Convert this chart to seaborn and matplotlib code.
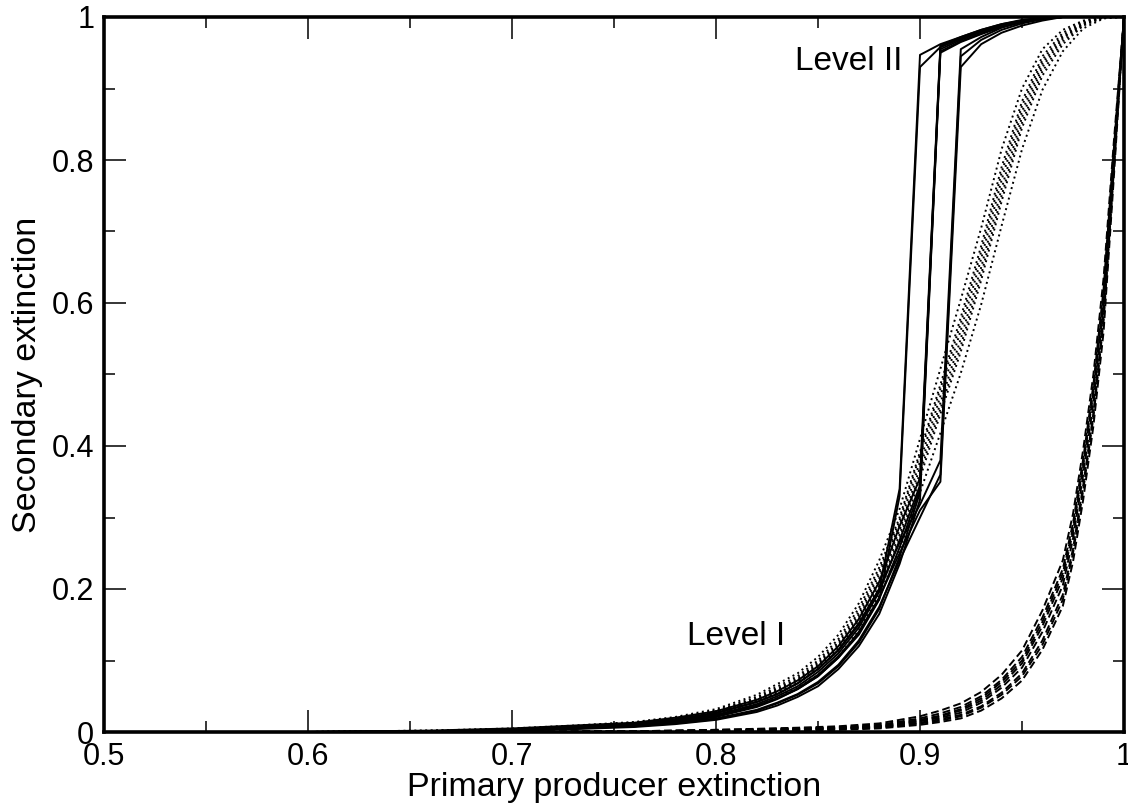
import matplotlib
matplotlib.use("Agg")
import matplotlib.pyplot as plt
import numpy as np
import pandas as pd
import seaborn as sns
from matplotlib.ticker import MultipleLocator, FuncFormatter

# x grids (primary producer extinction) for each family of runs
solid_x = [0.50, 0.60, 0.66, 0.70, 0.73, 0.76, 0.78, 0.80, 0.82, 0.83, 0.84, 0.85, 0.86,
           0.87, 0.88, 0.89, 0.90, 0.91, 0.92, 0.93, 0.94, 0.95, 0.96, 0.97, 1.00]
dotted_x = [0.50, 0.60, 0.66, 0.70, 0.73, 0.76, 0.78, 0.80, 0.82, 0.84, 0.85, 0.86, 0.87,
            0.88, 0.89, 0.90, 0.91, 0.92, 0.93, 0.94, 0.95, 0.96, 0.97, 0.98, 0.99, 1.00]
dashed_x = [0.50, 0.60, 0.70, 0.76, 0.80, 0.84, 0.86, 0.88, 0.90, 0.91, 0.92, 0.93, 0.94,
            0.95, 0.96, 0.97, 0.975, 0.98, 0.985, 0.99, 0.995, 1.00]

# solid runs (Level I -> Level II jump)
solid_runs = [
    [0, 0, 0.001, 0.004, 0.007, 0.012, 0.018, 0.027, 0.042, 0.053, 0.068, 0.088, 0.114, 0.150, 0.200, 0.340, 0.947, 0.962, 0.972, 0.982, 0.990, 0.995, 0.998, 1.0, 1.0],
    [0, 0, 0, 0.002, 0.005, 0.009, 0.014, 0.021, 0.035, 0.046, 0.060, 0.078, 0.104, 0.136, 0.185, 0.330, 0.930, 0.958, 0.970, 0.980, 0.988, 0.994, 0.998, 1.0, 1.0],
    [0, 0, 0.001, 0.003, 0.006, 0.010, 0.016, 0.024, 0.039, 0.050, 0.064, 0.084, 0.110, 0.146, 0.196, 0.268, 0.345, 0.955, 0.968, 0.979, 0.988, 0.994, 0.998, 1.0, 1.0],
    [0, 0, 0, 0.002, 0.005, 0.008, 0.012, 0.018, 0.030, 0.040, 0.052, 0.068, 0.092, 0.125, 0.172, 0.245, 0.335, 0.950, 0.965, 0.976, 0.986, 0.993, 0.997, 1.0, 1.0],
    [0, 0, 0.002, 0.005, 0.009, 0.013, 0.020, 0.029, 0.045, 0.057, 0.072, 0.092, 0.120, 0.158, 0.210, 0.288, 0.355, 0.960, 0.972, 0.982, 0.990, 0.996, 0.999, 1.0, 1.0],
    [0, 0, 0.001, 0.003, 0.006, 0.009, 0.014, 0.022, 0.036, 0.047, 0.061, 0.080, 0.106, 0.138, 0.186, 0.258, 0.340, 0.958, 0.970, 0.980, 0.989, 0.995, 0.998, 1.0, 1.0],
    [0, 0, 0, 0.002, 0.004, 0.007, 0.011, 0.017, 0.028, 0.037, 0.049, 0.064, 0.088, 0.120, 0.165, 0.235, 0.325, 0.952, 0.966, 0.977, 0.987, 0.993, 0.997, 1.0, 1.0],
    [0, 0, 0.001, 0.003, 0.006, 0.010, 0.015, 0.023, 0.037, 0.047, 0.060, 0.078, 0.104, 0.140, 0.188, 0.250, 0.310, 0.350, 0.930, 0.962, 0.978, 0.988, 0.995, 1.0, 1.0],
    [0, 0, 0, 0.002, 0.005, 0.008, 0.013, 0.019, 0.031, 0.041, 0.053, 0.070, 0.094, 0.128, 0.175, 0.240, 0.300, 0.360, 0.945, 0.968, 0.982, 0.991, 0.997, 1.0, 1.0],
    [0, 0, 0.001, 0.004, 0.007, 0.011, 0.017, 0.026, 0.042, 0.053, 0.068, 0.088, 0.115, 0.152, 0.200, 0.265, 0.318, 0.380, 0.955, 0.972, 0.985, 0.993, 0.998, 1.0, 1.0],
]

# dotted runs (smooth sigmoid)
dotted_runs = [
    [0, 0, 0.001, 0.003, 0.007, 0.012, 0.017, 0.027, 0.044, 0.072, 0.093, 0.120, 0.160, 0.214, 0.282, 0.370, 0.460, 0.550, 0.650, 0.760, 0.860, 0.930, 0.970, 0.990, 1.0, 1.0],
    [0, 0, 0.002, 0.005, 0.009, 0.014, 0.021, 0.032, 0.052, 0.082, 0.105, 0.136, 0.180, 0.240, 0.312, 0.410, 0.508, 0.605, 0.705, 0.815, 0.900, 0.955, 0.982, 0.995, 1.0, 1.0],
    [0, 0, 0.001, 0.002, 0.006, 0.010, 0.015, 0.023, 0.038, 0.062, 0.080, 0.105, 0.142, 0.192, 0.255, 0.335, 0.418, 0.502, 0.598, 0.708, 0.815, 0.898, 0.952, 0.984, 0.998, 1.0],
    [0, 0, 0.001, 0.004, 0.008, 0.013, 0.019, 0.029, 0.047, 0.075, 0.097, 0.126, 0.168, 0.225, 0.296, 0.388, 0.480, 0.572, 0.672, 0.782, 0.876, 0.940, 0.975, 0.992, 1.0, 1.0],
    [0, 0, 0, 0.003, 0.006, 0.011, 0.016, 0.025, 0.042, 0.068, 0.088, 0.114, 0.152, 0.204, 0.270, 0.355, 0.445, 0.532, 0.632, 0.742, 0.845, 0.918, 0.962, 0.988, 0.999, 1.0],
    [0, 0, 0.002, 0.004, 0.008, 0.013, 0.018, 0.028, 0.046, 0.073, 0.095, 0.123, 0.164, 0.220, 0.290, 0.378, 0.470, 0.562, 0.662, 0.772, 0.868, 0.935, 0.972, 0.991, 1.0, 1.0],
    [0, 0, 0.001, 0.003, 0.007, 0.012, 0.017, 0.026, 0.043, 0.069, 0.090, 0.117, 0.156, 0.209, 0.276, 0.362, 0.452, 0.540, 0.640, 0.750, 0.852, 0.924, 0.966, 0.989, 1.0, 1.0],
    [0, 0, 0.001, 0.003, 0.007, 0.012, 0.018, 0.030, 0.049, 0.078, 0.100, 0.130, 0.173, 0.230, 0.300, 0.392, 0.486, 0.580, 0.680, 0.790, 0.882, 0.945, 0.978, 0.994, 1.0, 1.0],
]

# dashed runs (steep rise near 1)
dashed_runs = [
    [0, 0, 0, 0.001, 0.002, 0.004, 0.005, 0.007, 0.015, 0.020, 0.027, 0.041, 0.062, 0.090, 0.140, 0.205, 0.270, 0.360, 0.460, 0.595, 0.800, 1.0],
    [0, 0, 0, 0.001, 0.003, 0.006, 0.008, 0.012, 0.022, 0.030, 0.040, 0.056, 0.080, 0.114, 0.170, 0.240, 0.305, 0.395, 0.500, 0.635, 0.825, 1.0],
    [0, 0, 0, 0, 0.001, 0.002, 0.003, 0.005, 0.010, 0.014, 0.019, 0.030, 0.047, 0.072, 0.115, 0.176, 0.238, 0.325, 0.428, 0.560, 0.775, 1.0],
    [0, 0, 0, 0.001, 0.002, 0.004, 0.006, 0.008, 0.016, 0.022, 0.030, 0.044, 0.066, 0.096, 0.148, 0.215, 0.280, 0.372, 0.475, 0.610, 0.810, 1.0],
    [0, 0, 0, 0, 0.002, 0.003, 0.005, 0.007, 0.013, 0.018, 0.024, 0.036, 0.055, 0.082, 0.128, 0.192, 0.256, 0.345, 0.446, 0.582, 0.788, 1.0],
    [0, 0, 0, 0.001, 0.002, 0.005, 0.007, 0.010, 0.019, 0.026, 0.035, 0.050, 0.073, 0.105, 0.160, 0.228, 0.292, 0.382, 0.486, 0.620, 0.815, 1.0],
    [0, 0, 0, 0, 0.001, 0.003, 0.004, 0.006, 0.012, 0.016, 0.022, 0.034, 0.052, 0.078, 0.122, 0.185, 0.250, 0.338, 0.440, 0.575, 0.785, 1.0],
    [0, 0, 0, 0.001, 0.003, 0.005, 0.006, 0.009, 0.017, 0.023, 0.032, 0.047, 0.070, 0.100, 0.154, 0.222, 0.286, 0.376, 0.478, 0.605, 0.805, 1.0],
]

# build one long table
rows = []
for fam, xs, runs in [("solid", solid_x, solid_runs),
                      ("dotted", dotted_x, dotted_runs),
                      ("dashed", dashed_x, dashed_runs)]:
    for i, ys in enumerate(runs):
        for x, y in zip(xs, ys):
            rows.append((fam, f"{fam}{i}", x, y))
df = pd.DataFrame(rows, columns=["family", "run", "x", "y"])

sns.set_theme(style="ticks")
plt.rcParams["font.family"] = ["Liberation Sans", "DejaVu Sans"]
plt.rcParams["text.color"] = "black"
plt.rcParams["axes.labelcolor"] = "black"

fig = plt.figure(figsize=(11.28, 8.06), dpi=100)
ax = fig.add_axes([104 / 1128, 74 / 806, 1020 / 1128, 715 / 806])

sns.lineplot(data=df, x="x", y="y", units="run", estimator=None, style="family",
             dashes={"solid": "", "dotted": (1, 1.8), "dashed": (4, 2)},
             color="black", linewidth=1.4, legend=False, sort=False, ax=ax)

ax.set_xlim(0.5, 1.0)
ax.set_ylim(0, 1.0)
ax.xaxis.set_major_locator(MultipleLocator(0.1))
ax.xaxis.set_minor_locator(MultipleLocator(0.05))
ax.yaxis.set_major_locator(MultipleLocator(0.2))
ax.yaxis.set_minor_locator(MultipleLocator(0.1))
fmt = FuncFormatter(lambda v, p: f"{v:g}")
ax.xaxis.set_major_formatter(fmt)
ax.yaxis.set_major_formatter(fmt)

ax.tick_params(which="both", direction="in", top=True, right=True, width=1.1,
               colors="black", labelcolor="black")
ax.tick_params(which="major", length=16, labelsize=22, pad=7)
ax.tick_params(which="minor", length=8)
for sp in ax.spines.values():
    sp.set_linewidth(2.6)
    sp.set_color("black")

ax.set_xlabel("Primary producer extinction", fontsize=24.5, labelpad=0)
ax.set_ylabel("Secondary extinction", fontsize=24.5, labelpad=6)

ax.text(0.7858, 0.122, "Level I", fontsize=24, ha="left", va="baseline")
ax.text(0.8387, 0.926, "Level II", fontsize=24, ha="left", va="baseline")

fig.savefig("out.png", dpi=100)
